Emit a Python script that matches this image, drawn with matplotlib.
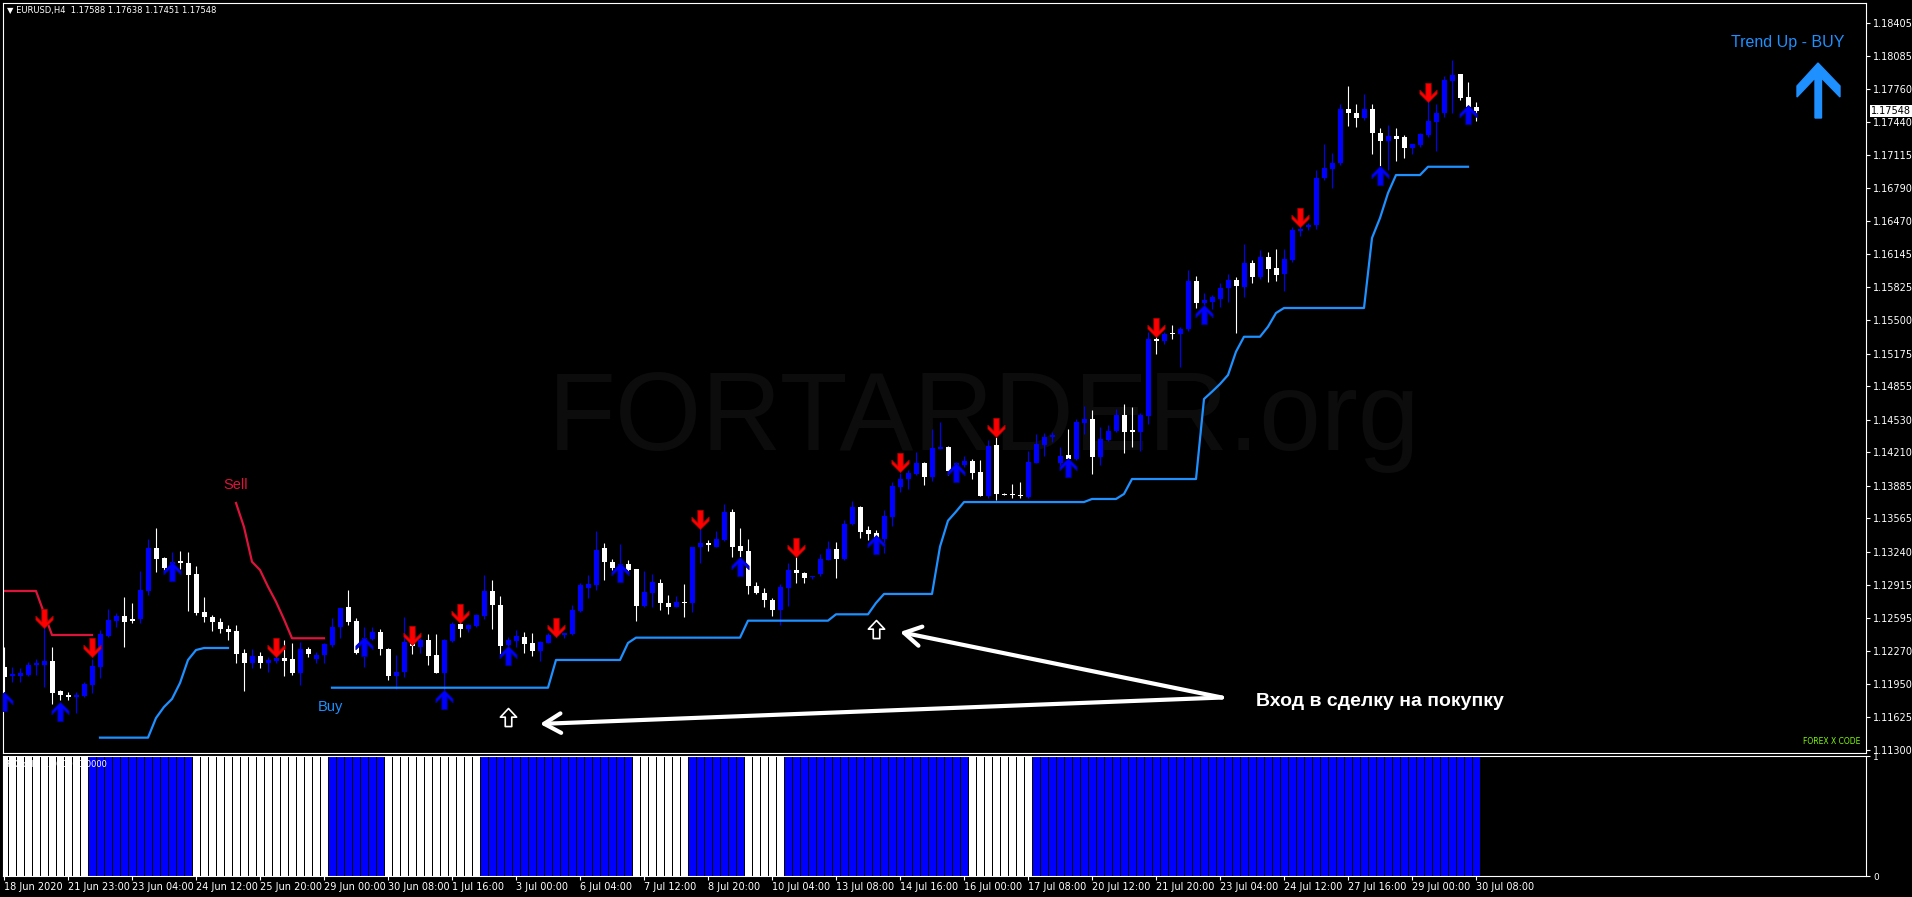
import numpy as np
import matplotlib
matplotlib.use("Agg")
import matplotlib.pyplot as plt
from matplotlib.path import Path
from matplotlib.patches import Rectangle, Polygon
from matplotlib.collections import PatchCollection, LineCollection

W, H = 1912, 897

# EURUSD H4, 18 Jun 2020 - 30 Jul 2020
opens = [
    1.12115, 1.12027, 1.12024, 1.12033, 1.12128, 1.12131, 1.12170, 1.11877, 1.11835, 1.11822,
    1.11831, 1.11936, 1.12115, 1.12415, 1.12565, 1.12611, 1.12578, 1.12578, 1.12858, 1.13272,
    1.13174, 1.13077, 1.13148, 1.13132, 1.13021, 1.12650, 1.12604, 1.12555, 1.12487, 1.12464,
    1.12252, 1.12148, 1.12223, 1.12154, 1.12174, 1.12203, 1.12190, 1.12050, 1.12294, 1.12190,
    1.12226, 1.12324, 1.12506, 1.12695, 1.12562, 1.12245, 1.12386, 1.12451, 1.12294, 1.12030,
    1.12066, 1.12359, 1.12310, 1.12375, 1.12229, 1.12056, 1.12366, 1.12532, 1.12483, 1.12516,
    1.12610, 1.12855, 1.12718, 1.12326, 1.12366, 1.12408, 1.12343, 1.12268, 1.12349, 1.12418,
    1.12424, 1.12434, 1.12659, 1.12890, 1.12913, 1.13272, 1.13141, 1.13060, 1.13119, 1.13070,
    1.12708, 1.12838, 1.12930, 1.12741, 1.12701, 1.12750, 1.12734, 1.13282, 1.13327, 1.13288,
    1.13353, 1.13624, 1.13295, 1.13249, 1.12904, 1.12838, 1.12767, 1.12674, 1.12889, 1.13059,
    1.13036, 1.12990, 1.13026, 1.13163, 1.13271, 1.13166, 1.13515, 1.13678, 1.13450, 1.13424,
    1.13362, 1.13580, 1.13874, 1.13949, 1.13998, 1.14109, 1.13972, 1.14242, 1.14265, 1.14020,
    1.14086, 1.14128, 1.14020, 1.13786, 1.14281, 1.13800, 1.13802, 1.13796, 1.13776, 1.14109,
    1.14281, 1.14356, 1.14102, 1.14183, 1.14141, 1.14500, 1.14536, 1.14161, 1.14330, 1.14418,
    1.14575, 1.14426, 1.14410, 1.14566, 1.15316, 1.15300, 1.15378, 1.15365, 1.15414, 1.15883,
    1.15665, 1.15681, 1.15707, 1.15818, 1.15893, 1.15828, 1.16056, 1.15919, 1.16115, 1.16007,
    1.15952, 1.16089, 1.16375, 1.16415, 1.16429, 1.16893, 1.16977, 1.17033, 1.17570, 1.17531,
    1.17479, 1.17561, 1.17326, 1.17254, 1.17300, 1.17293, 1.17186, 1.17212, 1.17310, 1.17440,
    1.17522, 1.17841, 1.17906, 1.17685, 1.17588]
highs = [
    1.12311, 1.12115, 1.12099, 1.12164, 1.12196, 1.12506, 1.12311, 1.11887, 1.11870, 1.11870,
    1.11968, 1.12196, 1.12474, 1.12676, 1.12643, 1.12793, 1.12741, 1.13051, 1.13360, 1.13468,
    1.13191, 1.13240, 1.13246, 1.13240, 1.13100, 1.12793, 1.12620, 1.12588, 1.12522, 1.12522,
    1.12294, 1.12294, 1.12262, 1.12213, 1.12229, 1.12376, 1.12343, 1.12359, 1.12311, 1.12262,
    1.12343, 1.12588, 1.12690, 1.12865, 1.12588, 1.12506, 1.12506, 1.12480, 1.12300, 1.12229,
    1.12604, 1.12375, 1.12392, 1.12434, 1.12434, 1.12382, 1.12555, 1.12555, 1.12538, 1.12636,
    1.13011, 1.12962, 1.12806, 1.12408, 1.12473, 1.12457, 1.12447, 1.12369, 1.12441, 1.12457,
    1.12450, 1.12718, 1.12930, 1.13011, 1.13441, 1.13327, 1.13164, 1.13314, 1.13158, 1.13075,
    1.13050, 1.13021, 1.12972, 1.12815, 1.12806, 1.12923, 1.13288, 1.13467, 1.13353, 1.13441,
    1.13702, 1.13653, 1.13467, 1.13360, 1.12946, 1.12881, 1.12789, 1.12928, 1.13131, 1.13222,
    1.13040, 1.13005, 1.13222, 1.13342, 1.13336, 1.13554, 1.13734, 1.13688, 1.13489, 1.13450,
    1.13646, 1.13923, 1.14011, 1.14037, 1.14216, 1.14112, 1.14435, 1.14509, 1.14270, 1.14118,
    1.14174, 1.14141, 1.14135, 1.14330, 1.14363, 1.13810, 1.13906, 1.13916, 1.14223, 1.14389,
    1.14402, 1.14412, 1.14258, 1.14438, 1.14532, 1.14663, 1.14624, 1.14461, 1.14477, 1.14630,
    1.14682, 1.14654, 1.14596, 1.15388, 1.15371, 1.15388, 1.15453, 1.15437, 1.15991, 1.15932,
    1.15772, 1.15746, 1.15870, 1.15958, 1.15919, 1.16245, 1.16089, 1.16186, 1.16170, 1.16196,
    1.16193, 1.16415, 1.16415, 1.16447, 1.16967, 1.17228, 1.17140, 1.17619, 1.17789, 1.17619,
    1.17711, 1.17613, 1.17375, 1.17407, 1.17375, 1.17310, 1.17228, 1.17333, 1.17650, 1.17619,
    1.17887, 1.18043, 1.17910, 1.17825, 1.17638]
lows = [
    1.11870, 1.11968, 1.11968, 1.12027, 1.12033, 1.11919, 1.11756, 1.11789, 1.11789, 1.11665,
    1.11825, 1.11861, 1.12001, 1.12408, 1.12506, 1.12311, 1.12545, 1.12545, 1.12816, 1.13044,
    1.13044, 1.13060, 1.13070, 1.12663, 1.12620, 1.12555, 1.12464, 1.12441, 1.12376, 1.12148,
    1.11880, 1.12099, 1.12099, 1.12066, 1.12148, 1.12027, 1.12033, 1.11936, 1.12213, 1.12148,
    1.12148, 1.12311, 1.12392, 1.12522, 1.12245, 1.12115, 1.12376, 1.12229, 1.11985, 1.11903,
    1.12017, 1.12245, 1.12252, 1.12131, 1.12050, 1.11886, 1.12359, 1.12408, 1.12457, 1.12506,
    1.12587, 1.12489, 1.12245, 1.12261, 1.12310, 1.12252, 1.12222, 1.12173, 1.12343, 1.12408,
    1.12398, 1.12424, 1.12652, 1.12783, 1.12864, 1.12962, 1.13060, 1.12946, 1.13027, 1.12564,
    1.12695, 1.12695, 1.12675, 1.12630, 1.12695, 1.12604, 1.12652, 1.13132, 1.13249, 1.13282,
    1.13344, 1.13184, 1.13190, 1.12825, 1.12825, 1.12701, 1.12613, 1.12527, 1.12707, 1.12935,
    1.12938, 1.12975, 1.13000, 1.13157, 1.12984, 1.13160, 1.13499, 1.13375, 1.13359, 1.13228,
    1.13228, 1.13489, 1.13825, 1.13848, 1.13988, 1.13890, 1.13932, 1.14239, 1.13988, 1.13972,
    1.14069, 1.13946, 1.13780, 1.13760, 1.13743, 1.13790, 1.13760, 1.13760, 1.13760, 1.14102,
    1.14174, 1.14314, 1.14053, 1.14102, 1.14135, 1.14389, 1.13998, 1.14086, 1.14320, 1.14412,
    1.14206, 1.14263, 1.14224, 1.14491, 1.15176, 1.15267, 1.15316, 1.15045, 1.15397, 1.15622,
    1.15648, 1.15616, 1.15632, 1.15681, 1.15378, 1.15730, 1.15867, 1.15900, 1.15877, 1.15886,
    1.15789, 1.16072, 1.16323, 1.16382, 1.16397, 1.16870, 1.16798, 1.17016, 1.17398, 1.17391,
    1.17456, 1.17121, 1.17007, 1.16974, 1.17059, 1.17088, 1.17121, 1.17196, 1.17293, 1.17156,
    1.17489, 1.17522, 1.17652, 1.17473, 1.17451]
closes = [
    1.12017, 1.12043, 1.12050, 1.12131, 1.12148, 1.12170, 1.11861, 1.11844, 1.11822, 1.11838,
    1.11945, 1.12122, 1.12434, 1.12571, 1.12611, 1.12555, 1.12565, 1.12865, 1.13272, 1.13168,
    1.13077, 1.13142, 1.13126, 1.13011, 1.12643, 1.12597, 1.12549, 1.12480, 1.12457, 1.12245,
    1.12148, 1.12219, 1.12148, 1.12177, 1.12203, 1.12174, 1.12050, 1.12294, 1.12239, 1.12229,
    1.12337, 1.12500, 1.12685, 1.12555, 1.12252, 1.12392, 1.12457, 1.12294, 1.12027, 1.12069,
    1.12359, 1.12320, 1.12375, 1.12222, 1.12056, 1.12375, 1.12532, 1.12486, 1.12522, 1.12617,
    1.12855, 1.12718, 1.12320, 1.12375, 1.12415, 1.12336, 1.12268, 1.12353, 1.12424, 1.12441,
    1.12441, 1.12669, 1.12913, 1.12923, 1.13256, 1.13141, 1.13076, 1.13115, 1.13060, 1.12708,
    1.12845, 1.12943, 1.12734, 1.12701, 1.12750, 1.12734, 1.13282, 1.13321, 1.13301, 1.13363,
    1.13624, 1.13288, 1.13249, 1.12907, 1.12832, 1.12767, 1.12669, 1.12896, 1.13065, 1.13033,
    1.12984, 1.12995, 1.13173, 1.13271, 1.13166, 1.13515, 1.13672, 1.13434, 1.13411, 1.13368,
    1.13587, 1.13880, 1.13949, 1.14011, 1.14109, 1.13972, 1.14255, 1.14265, 1.14030, 1.14102,
    1.14125, 1.14011, 1.13786, 1.14272, 1.13802, 1.13798, 1.13796, 1.13786, 1.14115, 1.14291,
    1.14356, 1.14376, 1.14174, 1.14148, 1.14509, 1.14539, 1.14167, 1.14340, 1.14418, 1.14575,
    1.14412, 1.14413, 1.14573, 1.15316, 1.15296, 1.15371, 1.15365, 1.15420, 1.15883, 1.15665,
    1.15697, 1.15730, 1.15821, 1.15893, 1.15838, 1.16056, 1.15926, 1.16115, 1.16001, 1.15942,
    1.16095, 1.16382, 1.16392, 1.16434, 1.16896, 1.16993, 1.17042, 1.17570, 1.17528, 1.17479,
    1.17561, 1.17326, 1.17254, 1.17300, 1.17271, 1.17186, 1.17222, 1.17319, 1.17450, 1.17522,
    1.17848, 1.17896, 1.17668, 1.17587, 1.17548]

# trend histogram in the sub window: (state, number of bars), 0 = white, 1 = blue
trend_runs = [(0, 11), (1, 13), (0, 17), (1, 7), (0, 12), (1, 19),
              (0, 7), (1, 7), (0, 5), (1, 23), (0, 8), (1, 56)]

# trailing stop lines: (first bar, values)
sell_stop_a = (0, [1.12856, 1.12856, 1.12856, 1.12856, 1.12856, 1.12641,
                   1.12426, 1.12426, 1.12426, 1.12426, 1.12426, 1.12426])
sell_stop_b = (29, [1.13716, 1.13481, 1.13142, 1.13061, 1.12898, 1.12751,
                    1.12579, 1.12394, 1.12394, 1.12394, 1.12394, 1.12394])
buy_stop_a = (12, [1.11423, 1.11423, 1.11423, 1.11423, 1.11423, 1.11423, 1.11423,
                   1.11615, 1.11723, 1.11801, 1.11957, 1.12182, 1.12279,
                   1.12299, 1.12299, 1.12299, 1.12299])
buy_stop_b = (41, [
    1.11911, 1.11911, 1.11911, 1.11911, 1.11911, 1.11911, 1.11911, 1.11911, 1.11911, 1.11911,
    1.11911, 1.11911, 1.11911, 1.11911, 1.11911, 1.11911, 1.11911, 1.11911, 1.11911, 1.11911,
    1.11911, 1.11911, 1.11911, 1.11911, 1.11911, 1.11911, 1.11911, 1.11911,
    1.12182, 1.12182, 1.12182, 1.12182, 1.12182, 1.12182, 1.12182, 1.12182, 1.12182,
    1.12348,
    1.12400, 1.12400, 1.12400, 1.12400, 1.12400, 1.12400, 1.12400, 1.12400, 1.12400, 1.12400,
    1.12400, 1.12400, 1.12400, 1.12400,
    1.12566, 1.12566, 1.12566, 1.12566, 1.12566, 1.12566, 1.12566, 1.12566, 1.12566, 1.12566,
    1.12566,
    1.12628, 1.12628, 1.12628, 1.12628, 1.12628,
    1.12739,
    1.12827, 1.12827, 1.12827, 1.12827, 1.12827, 1.12827, 1.12827,
    1.13289, 1.13543, 1.13631,
    1.13725, 1.13725, 1.13725, 1.13725, 1.13725, 1.13725, 1.13725, 1.13725, 1.13725, 1.13725,
    1.13725, 1.13725, 1.13725, 1.13725, 1.13725, 1.13725,
    1.13755, 1.13755, 1.13755, 1.13755,
    1.13804,
    1.13950, 1.13950, 1.13950, 1.13950, 1.13950, 1.13950, 1.13950, 1.13950, 1.13950,
    1.14732, 1.14803, 1.14878, 1.14966, 1.15194,
    1.15340, 1.15340, 1.15340,
    1.15438, 1.15572,
    1.15621, 1.15621, 1.15621, 1.15621, 1.15621, 1.15621, 1.15621, 1.15621, 1.15621, 1.15621,
    1.15621,
    1.16305, 1.16500, 1.16744,
    1.16920, 1.16920, 1.16920, 1.16920,
    1.17001, 1.17001, 1.17001, 1.17001, 1.17001, 1.17001])

# signal arrows (bar, price of the arrow tip)
sell_bars = [5, 11, 34, 51, 57, 69, 87, 99, 112, 124, 144, 162, 178]
sell_marks = [1.12494, 1.12214, 1.12214, 1.12328, 1.12540, 1.12410, 1.13459,
              1.13191, 1.14022, 1.14358, 1.15335, 1.16409, 1.17636]
buy_bars = [0, 7, 21, 45, 55, 63, 77, 92, 109, 119, 133, 150, 172, 183]
buy_marks = [1.11872, 1.11774, 1.13142, 1.12410, 1.11889, 1.12319, 1.13127,
             1.13185, 1.13403, 1.14110, 1.14152, 1.15650, 1.17008, 1.17604]
entry_bars = [63, 109]
entry_marks = [1.11710, 1.12573]

price_ticks = [1.18405, 1.18085, 1.17760, 1.17440, 1.17115, 1.16790, 1.16470, 1.16145,
               1.15825, 1.15500, 1.15175, 1.14855, 1.14530, 1.14210, 1.13885, 1.13565,
               1.13240, 1.12915, 1.12595, 1.12270, 1.11950, 1.11625, 1.11300]
time_labels = ["18 Jun 2020", "21 Jun 23:00", "23 Jun 04:00", "24 Jun 12:00",
               "25 Jun 20:00", "29 Jun 00:00", "30 Jun 08:00", "1 Jul 16:00",
               "3 Jul 00:00", "6 Jul 04:00", "7 Jul 12:00", "8 Jul 20:00",
               "10 Jul 04:00", "13 Jul 08:00", "14 Jul 16:00", "16 Jul 00:00",
               "17 Jul 08:00", "20 Jul 12:00", "21 Jul 20:00", "23 Jul 04:00",
               "24 Jul 12:00", "27 Jul 16:00", "29 Jul 00:00", "30 Jul 08:00"]

BLUE = "#0000FF"
DODGER = "#1E90FF"
CRIMSON = "#DC143C"

n = len(closes)
x = np.arange(n)


def box(x0, y0, x1, y1):
    # pixel box -> figure fraction
    return [x0 / W, 1 - y1 / H, (x1 - x0) / W, (y1 - y0) / H]


def series(seg):
    s = np.full(n, np.nan)
    s[seg[0]:seg[0] + len(seg[1])] = seg[1]
    return s


fig = plt.figure(figsize=(W / 100, H / 100), dpi=100, facecolor="black")
ax = fig.add_axes(box(3, 3, 1866, 753))
sub = fig.add_axes(box(3, 756, 1866, 876))

for a in (ax, sub):
    a.set_facecolor("black")
    a.set_xlim(-0.125, 232.75)
    for s in a.spines.values():
        s.set_color("white")
        s.set_linewidth(0.8)

ax.set_ylim(1.11273, 1.18601)

# watermark
ax.text(984 / W, 1 - 421 / H, "FORTARDER.org", transform=fig.transFigure,
        ha="center", va="center", fontsize=80, color="#0c0c0c",
        family="Liberation Sans", zorder=0)

# candles
bw = 0.625
bodies, wicks, cols = [], [], []
for i in range(n):
    o, h, l, c = opens[i], highs[i], lows[i], closes[i]
    col = BLUE if c >= o else "white"
    bodies.append(Rectangle((i - bw / 2, min(o, c)), bw, max(abs(c - o), 0.00009)))
    wicks.append([(i, l), (i, h)])
    cols.append(col)
ax.add_collection(LineCollection(wicks, colors=cols, linewidths=0.8, zorder=2))
ax.add_collection(PatchCollection(bodies, facecolors=cols, edgecolors="none",
                                  linewidths=0, zorder=3))

# stop lines
ax.plot(x, series(sell_stop_a), color=CRIMSON, lw=1.6, zorder=2.5)
ax.plot(x, series(sell_stop_b), color=CRIMSON, lw=1.6, zorder=2.5)
ax.plot(x, series(buy_stop_a), color=DODGER, lw=1.6, zorder=2.5)
ax.plot(x, series(buy_stop_b), color=DODGER, lw=1.6, zorder=2.5)

# arrows
up_v = [(0, 0), (0.45, -0.45), (0.45, -0.64), (0.14, -0.34), (0.14, -1.0),
        (-0.14, -1.0), (-0.14, -0.34), (-0.45, -0.64), (-0.45, -0.45), (0, 0)]
codes = [Path.MOVETO] + [Path.LINETO] * 8 + [Path.CLOSEPOLY]
up_arrow = Path(up_v, codes)
down_arrow = Path([(vx, -vy) for vx, vy in up_v], codes)
ax.plot(sell_bars, sell_marks, ls="none", marker=down_arrow, ms=27.5,
        mfc="#FF0000", mec="#B00000", mew=0.6, zorder=4)
ax.plot(buy_bars, buy_marks, ls="none", marker=up_arrow, ms=27.5,
        mfc=BLUE, mec="#0000A0", mew=0.6, zorder=4)

hollow_v = [(0, 0), (0.45, -0.48), (0.18, -0.48), (0.18, -1.0), (-0.18, -1.0),
            (-0.18, -0.48), (-0.45, -0.48), (0, 0)]
hollow = Path(hollow_v, [Path.MOVETO] + [Path.LINETO] * 6 + [Path.CLOSEPOLY])
ax.plot(entry_bars, entry_marks, ls="none", marker=hollow, ms=26,
        mfc="black", mec="white", mew=1.2, zorder=4)

# labels on the chart
ax.text(27.4, 1.13892, "Sell", color=CRIMSON, fontsize=10.5,
        family="Liberation Sans", ha="left", va="center", zorder=5)
ax.text(39.2, 1.11723, "Buy", color=DODGER, fontsize=10.5,
        family="Liberation Sans", ha="left", va="center", zorder=5)

# annotation arrows
for tx, ty in [(112, 1.12455), (67, 1.11557)]:
    ax.annotate("", xy=(tx, ty), xytext=(152.25, 1.11815),
                arrowprops=dict(arrowstyle="->,head_length=0.6,head_width=0.35",
                                color="white", lw=3, shrinkA=0, shrinkB=0,
                                mutation_scale=20), zorder=5)
ax.text(156.5, 1.11781, "Вход в сделку на покупку", color="white", fontsize=14,
        fontweight="bold", family="Liberation Sans", ha="left", va="center", zorder=5)

# price axis
ax.set_xticks([])
ax.yaxis.tick_right()
ax.set_yticks(price_ticks)
ax.set_yticklabels(["%.5f" % p for p in price_ticks])
ax.tick_params(axis="y", colors="white", labelsize=7, length=3, width=0.8,
               direction="out", pad=2)
ax.annotate("1.17548", xy=(1, closes[-1]), xycoords=("axes fraction", "data"),
            xytext=(3.5, 0), textcoords="offset points", va="center", ha="left",
            fontsize=7, color="black", annotation_clip=False,
            bbox=dict(boxstyle="square,pad=0.12", fc="white", ec="none"), zorder=6)

# sub window histogram
trend = []
for state, cnt in trend_runs:
    trend += [state] * cnt
sub.bar(x, np.ones(n), width=0.875, color=[BLUE if t else "white" for t in trend],
        linewidth=0, align="center")
sub.set_ylim(0, 1)
sub.yaxis.tick_right()
sub.set_yticks([0, 1])
sub.set_yticklabels(["0", "1"])
sub.tick_params(axis="y", colors="white", labelsize=6.5, length=3, width=0.8, pad=2)
sub.set_xticks(np.arange(0, n, 8))
sub.set_xticklabels(time_labels)
sub.tick_params(axis="x", colors="white", labelsize=7, length=3, width=0.8, pad=1.5)
for lab in sub.get_xticklabels():
    lab.set_ha("left")
sub.text(7 / W, 1 - 764 / H, "FXCode  1.0000  0.0000", transform=fig.transFigure,
         color="white", fontsize=6, ha="left", va="center")

# title and corner texts
fig.text(7 / W, 1 - 10.5 / H, "▼ EURUSD,H4  1.17588 1.17638 1.17451 1.17548",
         color="white", fontsize=6, ha="left", va="center")
fig.text(1860 / W, 1 - 741 / H, "FOREX X CODE", color="#7CFC00", fontsize=5.5,
         ha="right", va="center")
fig.text(1788 / W, 1 - 43 / H, "Trend Up - BUY", color=DODGER, fontsize=11.5,
         family="Liberation Sans", ha="center", va="center")
big = [(1818, 63), (1840, 86), (1840, 97), (1821.5, 78), (1821.5, 118),
       (1815, 118), (1815, 78), (1797, 97), (1797, 86)]
fig.add_artist(Polygon([(px / W, 1 - py / H) for px, py in big], closed=True,
                       transform=fig.transFigure, color=DODGER))

fig.savefig("out.png", dpi=100, facecolor="black")
